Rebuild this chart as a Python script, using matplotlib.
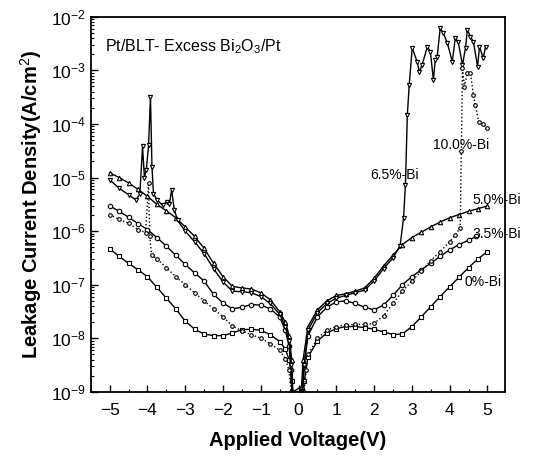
import matplotlib
matplotlib.use("Agg")
import matplotlib.pyplot as plt
import numpy as np
from matplotlib.ticker import LogLocator, MultipleLocator

plt.rcParams['font.family'] = ['Liberation Sans', 'DejaVu Sans']
plt.rcParams['mathtext.fontset'] = 'custom'
plt.rcParams['mathtext.rm'] = 'Liberation Sans'
plt.rcParams['mathtext.it'] = 'Liberation Sans'

# Values: voltage (V) and log10 of current density (A/cm^2)
v_0 = [-5.0, -4.75, -4.5, -4.25, -4.0, -3.75, -3.5, -3.25, -3.0, -2.75, -2.5, -2.25, -2.0,
       -1.75, -1.5, -1.25, -1.0, -0.75, -0.5, -0.35, -0.25, -0.18, -0.12,
       0.12, 0.15, 0.25, 0.5, 0.75, 1.0, 1.25, 1.5, 1.75, 2.0, 2.25, 2.5, 2.75, 3.0, 3.25,
       3.5, 3.75, 4.0, 4.25, 4.5, 4.75, 5.0]
logj_0 = [-6.33, -6.47, -6.6, -6.72, -6.85, -7.05, -7.25, -7.45, -7.68, -7.83, -7.92, -7.95, -7.95,
          -7.9, -7.84, -7.83, -7.85, -7.93, -8.06, -8.2, -8.4, -8.8, -9.3,
          -9.3, -8.8, -8.35, -8.05, -7.9, -7.82, -7.78, -7.78, -7.8, -7.83, -7.88, -7.93, -7.92, -7.78, -7.6,
          -7.41, -7.22, -7.04, -6.86, -6.68, -6.52, -6.38]

v_35 = [-5.0, -4.75, -4.5, -4.25, -4.0, -3.75, -3.5, -3.25, -3.0, -2.75, -2.5, -2.25, -2.0,
        -1.75, -1.5, -1.25, -1.0, -0.75, -0.5, -0.35, -0.25, -0.2, -0.16,
        0.1, 0.15, 0.25, 0.5, 0.75, 1.0, 1.25, 1.5, 1.75, 2.0, 2.25, 2.5, 2.75, 3.0, 3.25,
        3.5, 3.75, 4.0, 4.25, 4.5, 4.7]
logj_35 = [-5.53, -5.63, -5.74, -5.86, -5.97, -6.12, -6.28, -6.45, -6.62, -6.78, -6.93, -7.18, -7.34,
           -7.45, -7.42, -7.37, -7.38, -7.45, -7.6, -7.85, -8.15, -8.6, -9.1,
           -9.0, -8.5, -7.95, -7.6, -7.42, -7.32, -7.3, -7.35, -7.42, -7.47, -7.38, -7.2, -7.0, -6.85, -6.72,
           -6.6, -6.47, -6.35, -6.25, -6.17, -6.1]

v_50 = [-5.0, -4.75, -4.5, -4.25, -4.0, -3.75, -3.5, -3.25, -3.0, -2.75, -2.5, -2.25, -2.0,
        -1.75, -1.5, -1.25, -1.0, -0.75, -0.5, -0.35, -0.25, -0.18, -0.15,
        0.08, 0.12, 0.25, 0.5, 0.75, 1.0, 1.25, 1.5, 1.75, 2.0, 2.25, 2.5, 2.75, 3.0, 3.25,
        3.5, 3.75, 4.0, 4.25, 4.5, 4.75, 5.0]
logj_50 = [-4.91, -5.0, -5.1, -5.22, -5.35, -5.5, -5.62, -5.75, -5.92, -6.1, -6.32, -6.6, -6.85,
           -7.03, -7.06, -7.08, -7.15, -7.28, -7.5, -7.7, -7.95, -8.4, -9.0,
           -8.9, -8.4, -7.78, -7.47, -7.3, -7.2, -7.17, -7.12, -7.06, -6.88, -6.65, -6.45, -6.25, -6.12, -6.02,
           -5.92, -5.83, -5.75, -5.69, -5.63, -5.58, -5.53]

v_65 = [-5.0, -4.75, -4.5, -4.3, -4.2, -4.13, -4.08, -4.03, -3.97, -3.92, -3.88, -3.84, -3.75,
        -3.6, -3.49, -3.42, -3.36, -3.29, -3.2, -3.0, -2.75, -2.5, -2.25, -2.0, -1.75, -1.5,
        -1.25, -1.0, -0.75, -0.5, -0.35, -0.25, -0.2, -0.17,
        0.1, 0.15, 0.25, 0.5, 0.75, 1.0, 1.25, 1.5, 1.75, 2.0, 2.25, 2.5, 2.69, 2.78, 2.83,
        2.88, 2.93, 3.01, 3.14, 3.2, 3.27, 3.41, 3.49, 3.57, 3.62, 3.67, 3.75, 3.83, 3.94,
        4.07, 4.15, 4.23, 4.34, 4.42, 4.47, 4.55, 4.63, 4.74, 4.79, 4.89, 4.95]
logj_65 = [-5.04, -5.2, -5.32, -5.42, -5.3, -4.42, -5.0, -4.85, -4.4, -3.49, -4.8, -5.3, -5.41,
           -5.52, -5.45, -5.5, -5.23, -5.6, -5.8, -6.0, -6.2, -6.42, -6.7, -6.95, -7.12, -7.13,
           -7.15, -7.22, -7.35, -7.55, -7.78, -8.05, -8.5, -9.0,
           -9.0, -8.5, -7.85, -7.52, -7.35, -7.25, -7.2, -7.15, -7.1, -6.93, -6.7, -6.5, -6.27, -5.75, -5.13,
           -3.83, -3.27, -2.58, -2.84, -3.03, -2.9, -2.56, -2.65, -3.18, -2.8, -2.75, -2.21, -2.3, -2.49,
           -2.84, -2.39, -2.48, -2.9, -2.58, -2.24, -2.37, -2.47, -2.93, -2.56, -2.77, -2.56]

v_100 = [-5.0, -4.75, -4.5, -4.25, -4.05, -3.97, -3.94, -3.89, -3.75, -3.5, -3.25, -3.0, -2.75,
         -2.5, -2.25, -2.0, -1.75, -1.5, -1.25, -1.0, -0.75, -0.5, -0.35, -0.25, -0.2,
         0.15, 0.2, 0.25, 0.5, 0.75, 1.0, 1.25, 1.5, 1.75, 2.0, 2.25, 2.5, 2.75, 3.0, 3.25,
         3.5, 3.75, 4.0, 4.15, 4.28, 4.31, 4.34, 4.39, 4.47, 4.55, 4.63, 4.68, 4.77, 4.89, 5.0]
logj_100 = [-5.69, -5.78, -5.85, -5.97, -6.03, -5.1, -6.1, -6.44, -6.52, -6.68, -6.85, -7.0, -7.15,
            -7.3, -7.45, -7.6, -7.77, -7.86, -7.93, -8.0, -8.1, -8.22, -8.38, -8.6, -9.0,
            -9.0, -8.6, -8.3, -8.0, -7.85, -7.78, -7.75, -7.74, -7.74, -7.72, -7.58, -7.35, -7.12, -6.93, -6.75,
            -6.55, -6.38, -6.2, -6.07, -5.94, -4.5, -2.95, -3.31, -3.05, -3.05, -3.46, -3.64, -3.96, -4.01, -4.07]

series = [
    (v_0, logj_0, dict(marker='s', ls='-', ms=3.2)),
    (v_35, logj_35, dict(marker='o', ls='-', ms=3.2)),
    (v_50, logj_50, dict(marker='^', ls='-', ms=3.2)),
    (v_65, logj_65, dict(marker='v', ls='-', ms=3.0)),
    (v_100, logj_100, dict(marker='o', ls=':', ms=2.6)),
]

fig = plt.figure(figsize=(5.34, 4.66), dpi=100)
ax = fig.add_axes([0.170, 0.159, 0.776, 0.805])

for v, lj, st in series:
    j = np.power(10.0, np.array(lj))
    ax.plot(v, j, color='black', lw=1.0, mfc='white', mec='black', mew=0.8, **st)

ax.set_yscale('log')
ax.set_xlim(-5.5, 5.47)
ax.set_ylim(1e-9, 1e-2)
ax.xaxis.set_major_locator(MultipleLocator(1))
ax.xaxis.set_minor_locator(MultipleLocator(0.5))
ax.yaxis.set_major_locator(LogLocator(base=10, numticks=20))
ax.yaxis.set_minor_locator(LogLocator(base=10, subs=np.arange(2, 10), numticks=20))
ax.tick_params(which='both', direction='in', top=False, right=False, labelsize=12.5)
ax.tick_params(which='major', length=5, width=1.0)
ax.tick_params(which='minor', length=2.5, width=0.8)
ax.tick_params(axis='x', pad=8)
for s in ax.spines.values():
    s.set_linewidth(1.3)

ax.set_xlabel('Applied Voltage(V)', fontsize=14.5, fontweight='bold', labelpad=9)
ax.set_ylabel('Leakage Current Density(A/cm$^2$)', fontsize=14.5, fontweight='bold', labelpad=5)

ax.text(-5.12, 10**-2.55, 'Pt/BLT- Excess Bi$_2$O$_3$/Pt', fontsize=11.5, va='center', ha='left')
ax.text(3.55, 10**-4.4, '10.0%-Bi', fontsize=10, va='center', ha='left')
ax.text(1.9, 10**-4.95, '6.5%-Bi', fontsize=10, va='center', ha='left')
ax.text(4.6, 10**-5.42, '5.0%-Bi', fontsize=10, va='center', ha='left', clip_on=False)
ax.text(4.6, 10**-6.05, '3.5%-Bi', fontsize=10, va='center', ha='left', clip_on=False)
ax.text(4.4, 10**-6.95, '0%-Bi', fontsize=10, va='center', ha='left')

fig.savefig('out.png', dpi=100)
